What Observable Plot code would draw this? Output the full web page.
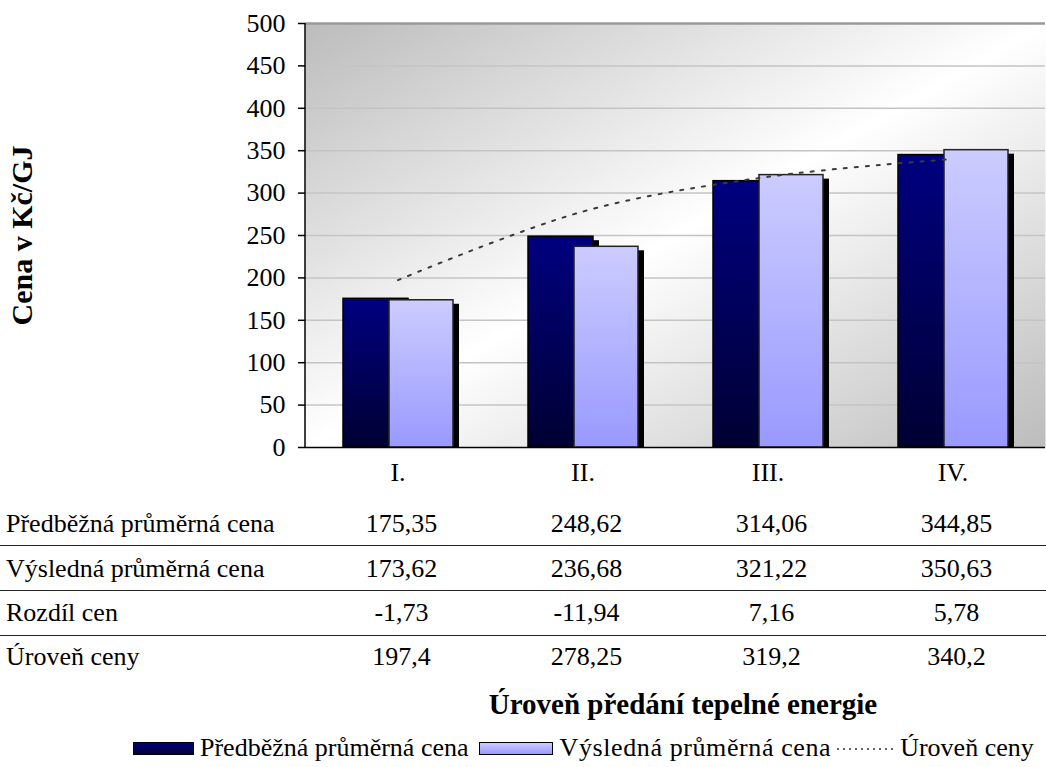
<!DOCTYPE html>
<html><head><meta charset="utf-8">
<script src="https://cdn.jsdelivr.net/npm/d3@7"></script>
<script src="https://cdn.jsdelivr.net/npm/@observablehq/plot@0.6"></script>
<style>
body{margin:0;background:#fff;font-family:"Liberation Serif","Times New Roman",serif;color:#000;}
#wrap{position:relative;width:1046px;height:767px;overflow:hidden;background:#fff;}
#wrap svg{position:absolute;left:0;top:0;}
.cell{position:absolute;font-size:26px;line-height:30px;white-space:nowrap;}
.hl{position:absolute;left:0;width:1046px;height:0;border-top:1.5px solid #222;}
#legend{position:absolute;left:133px;top:733px;white-space:nowrap;font-size:26px;line-height:30px;display:flex;align-items:center;}
.sw{display:inline-block;height:13px;border:1.5px solid #000;box-sizing:border-box;}
</style></head><body><div id="wrap"></div>
<script>
const categories = ["I.", "II.", "III.", "IV."];
const predbezna = [175.35, 248.62, 314.06, 344.85];
const vysledna = [173.62, 236.68, 321.22, 350.63];
const rozdil = [-1.73, -11.94, 7.16, 5.78];
const uroven = [197.4, 278.25, 319.2, 340.2];
const rowNames = ["Předběžná průměrná cena", "Výsledná průměrná cena", "Rozdíl cen", "Úroveň ceny"];
const yTicks = [0, 50, 100, 150, 200, 250, 300, 350, 400, 450, 500];
const yLabel = "Cena v Kč/GJ";
const xTitle = "Úroveň předání tepelné energie";

const fmt = v => String(v).replace(".", ",");
const rows = categories.map((c, i) => ({c, p: predbezna[i], v: vysledna[i], u: uroven[i]}));

const plot = Plot.plot({
  width: 1046, height: 490,
  marginTop: 23, marginLeft: 305, marginRight: 1, marginBottom: 43,
  style: {fontFamily: "Liberation Serif, serif", fontSize: "26px", color: "#000", background: "transparent", overflow: "visible"},
  x: {domain: categories, padding: 0, label: null},
  y: {domain: [0, 500], label: null},
  marks: [
    Plot.frame({fill: "url(#bgGrad)", stroke: null}),
    Plot.ruleY(yTicks.slice(1, -1), {stroke: "#c4c4c4", strokeWidth: 1.5}),
    Plot.ruleY([500], {stroke: "#9a9a9a", strokeWidth: 2.5}),
    Plot.barY(rows, {x: "c", y: "p", insetLeft: 38, insetRight: 82, dx: 6, dy: 4, fill: "#000", clip: true}),
    Plot.barY(rows, {x: "c", y: "p", insetLeft: 38, insetRight: 82, fill: "url(#gDark)", stroke: "#000", strokeWidth: 1.5}),
    Plot.barY(rows, {x: "c", y: "v", insetLeft: 84, insetRight: 37, dx: 6, dy: 4, fill: "#000", clip: true}),
    Plot.barY(rows, {x: "c", y: "v", insetLeft: 84, insetRight: 37, fill: "url(#gLight)", stroke: "#222", strokeWidth: 1.5}),
    Plot.line(rows, {x: "c", y: "u", curve: "catmull-rom", stroke: "#3a3a3a", strokeWidth: 2, strokeDasharray: "3,8"}),
    Plot.ruleY([0], {stroke: "#000", strokeWidth: 1.5}),
    Plot.axisY({ticks: yTicks, tickSize: 7, tickPadding: 13, fontSize: 26, label: null, stroke: "#000", strokeWidth: 1.5, tickFormat: d => String(d)}),
    Plot.axisX({tickSize: 0, tickPadding: 15, fontSize: 26, label: null}),
    Plot.text([yLabel], {frameAnchor: "left", dx: -283, rotate: -90, textAnchor: "middle", fontWeight: "bold", fontSize: 30, text: d => d, fill: "#000"})
  ]
});

const svg = d3.select(plot);
const defs = svg.insert("defs", ":first-child");
const bg = defs.append("linearGradient").attr("id", "bgGrad").attr("x1", 0).attr("y1", 0).attr("x2", 1).attr("y2", 1);
bg.append("stop").attr("offset", 0).attr("stop-color", "#bcbcbc");
bg.append("stop").attr("offset", 0.5).attr("stop-color", "#ffffff");
bg.append("stop").attr("offset", 1).attr("stop-color", "#bcbcbc");
const gd = defs.append("linearGradient").attr("id", "gDark").attr("x1", 0).attr("y1", 0).attr("x2", 0).attr("y2", 1);
gd.append("stop").attr("offset", 0).attr("stop-color", "#000080");
gd.append("stop").attr("offset", 1).attr("stop-color", "#000033");
const gl = defs.append("linearGradient").attr("id", "gLight").attr("x1", 0).attr("y1", 0).attr("x2", 0).attr("y2", 1);
gl.append("stop").attr("offset", 0).attr("stop-color", "#ccccff");
gl.append("stop").attr("offset", 1).attr("stop-color", "#9999ff");

// left axis line using the scales
const xs = plot.scale("x"), ys = plot.scale("y");
svg.append("line").attr("x1", xs.range[0]).attr("x2", xs.range[0])
  .attr("y1", ys.apply(0)).attr("y2", ys.apply(500)).attr("stroke", "#000").attr("stroke-width", 1.5);

const wrap = document.getElementById("wrap");
wrap.appendChild(plot);

// data table
const rowTops = [509, 554, 598, 642];
const tableVals = [predbezna, vysledna, rozdil, uroven];
const bw = xs.bandwidth;
rowNames.forEach((name, r) => {
  const lab = document.createElement("div");
  lab.className = "cell"; lab.style.left = "6px"; lab.style.top = rowTops[r] + "px";
  lab.textContent = name; wrap.appendChild(lab);
  categories.forEach((c, i) => {
    const d = document.createElement("div");
    d.className = "cell";
    d.style.left = (xs.apply(c) + bw / 2 + 4) + "px";
    d.style.top = rowTops[r] + "px";
    d.style.transform = "translateX(-50%)";
    d.textContent = fmt(tableVals[r][i]);
    wrap.appendChild(d);
  });
});
[545, 590, 635].forEach(y => {
  const l = document.createElement("div"); l.className = "hl"; l.style.top = y + "px"; wrap.appendChild(l);
});

// x title
const t = document.createElement("div");
t.className = "cell"; t.style.fontWeight = "bold"; t.style.fontSize = "29px"; t.style.left = "683px"; t.style.top = "689px";
t.style.transform = "translateX(-50%)"; t.textContent = xTitle; wrap.appendChild(t);

// legend
const lg = document.createElement("div"); lg.id = "legend";
lg.innerHTML =
  `<span class="sw" style="width:61px;margin-right:6px;background:linear-gradient(#000080,#000033)"></span><span>${rowNames[0]}</span>` +
  `<span class="sw" style="width:74px;margin-left:10px;margin-right:7px;background:linear-gradient(#ccccff,#9999ff)"></span><span style="letter-spacing:0.6px">${rowNames[1]}</span>` +
  `<svg width="60" height="10" style="position:static;margin:0 5px 0 4px"><line x1="2" x2="58" y1="6" y2="6" stroke="#333" stroke-width="1.5" stroke-dasharray="2,4"/></svg><span>${rowNames[3]}</span>`;
wrap.appendChild(lg);
</script></body></html>
